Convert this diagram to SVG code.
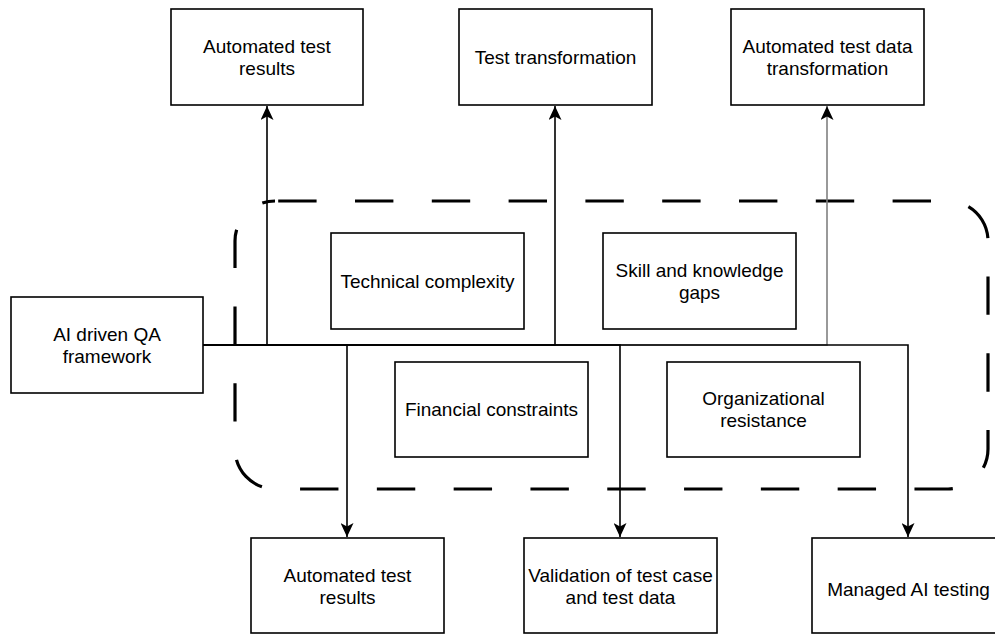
<svg xmlns="http://www.w3.org/2000/svg" width="995" height="635" viewBox="0 0 995 635">
  <style>
    .box { fill: #ffffff; stroke: #000000; stroke-width: 1.6; }
    .lbl { font-family: "Liberation Sans", Arial, Helvetica, sans-serif; font-size: 19px; fill: #000000; text-anchor: middle; }
    .edge { fill: none; stroke: #000000; stroke-width: 1.6; }
    .edge-gray { fill: none; stroke: #808080; stroke-width: 1.6; }
    .frame { fill: none; stroke: #000000; stroke-width: 3.2; stroke-dasharray: 38.4 38.4; stroke-dashoffset: 73.6; }
  </style>
  <defs>
    <marker id="arrow" viewBox="0 0 14 13" refX="14" refY="6.5" markerWidth="14" markerHeight="13" markerUnits="userSpaceOnUse" orient="auto">
      <path d="M0,0 L14,6.5 L0,13 L3.5,6.5 Z" fill="#000000"/>
    </marker>
  </defs>
  <rect width="995" height="635" fill="#ffffff"/>

  <g id="frame">
    <rect class="frame" x="235" y="201" width="753" height="288" rx="40" ry="40"/>
  </g>

  <g id="connectors">
    <path class="edge-gray" d="M203,345 L827,345 L827,106" marker-end="url(#arrow)"/>
    <path class="edge" d="M203,345 L267,345 L267,106" marker-end="url(#arrow)"/>
    <path class="edge" d="M203,345 L555,345 L555,106" marker-end="url(#arrow)"/>
    <path class="edge" d="M203,345 L347,345 L347,537" marker-end="url(#arrow)"/>
    <path class="edge" d="M203,345 L620,345 L620,537" marker-end="url(#arrow)"/>
    <path class="edge" d="M203,345 L908,345 L908,537" marker-end="url(#arrow)"/>
  </g>

  <g id="ai-qa-framework">
    <rect class="box" x="11" y="297" width="192" height="96"/>
    <text class="lbl" x="107" y="341">AI driven QA</text>
    <text class="lbl" x="107" y="363">framework</text>
  </g>

  <g id="top-automated-test-results">
    <rect class="box" x="171" y="9" width="192" height="96"/>
    <text class="lbl" x="267" y="53">Automated test</text>
    <text class="lbl" x="267" y="75">results</text>
  </g>

  <g id="test-transformation">
    <rect class="box" x="459" y="9" width="193" height="96"/>
    <text class="lbl" x="555.5" y="64">Test transformation</text>
  </g>

  <g id="automated-test-data-transformation">
    <rect class="box" x="731" y="9" width="193" height="96"/>
    <text class="lbl" x="827.5" y="53">Automated test data</text>
    <text class="lbl" x="827.5" y="75">transformation</text>
  </g>

  <g id="technical-complexity">
    <rect class="box" x="331" y="233" width="193" height="96"/>
    <text class="lbl" x="427.5" y="288">Technical complexity</text>
  </g>

  <g id="skill-knowledge-gaps">
    <rect class="box" x="603" y="233" width="193" height="96"/>
    <text class="lbl" x="699.5" y="277">Skill and knowledge</text>
    <text class="lbl" x="699.5" y="299">gaps</text>
  </g>

  <g id="financial-constraints">
    <rect class="box" x="395" y="362" width="193" height="95"/>
    <text class="lbl" x="491.5" y="416">Financial constraints</text>
  </g>

  <g id="organizational-resistance">
    <rect class="box" x="667" y="362" width="193" height="95"/>
    <text class="lbl" x="763.5" y="405">Organizational</text>
    <text class="lbl" x="763.5" y="427">resistance</text>
  </g>

  <g id="bottom-automated-test-results">
    <rect class="box" x="251" y="538" width="193" height="95"/>
    <text class="lbl" x="347.5" y="582">Automated test</text>
    <text class="lbl" x="347.5" y="604">results</text>
  </g>

  <g id="validation-test-case-data">
    <rect class="box" x="524" y="538" width="193" height="95"/>
    <text class="lbl" x="620.5" y="582">Validation of test case</text>
    <text class="lbl" x="620.5" y="604">and test data</text>
  </g>

  <g id="managed-ai-testing">
    <rect class="box" x="812" y="538" width="193" height="95"/>
    <text class="lbl" x="908.5" y="596">Managed AI testing</text>
  </g>
</svg>
